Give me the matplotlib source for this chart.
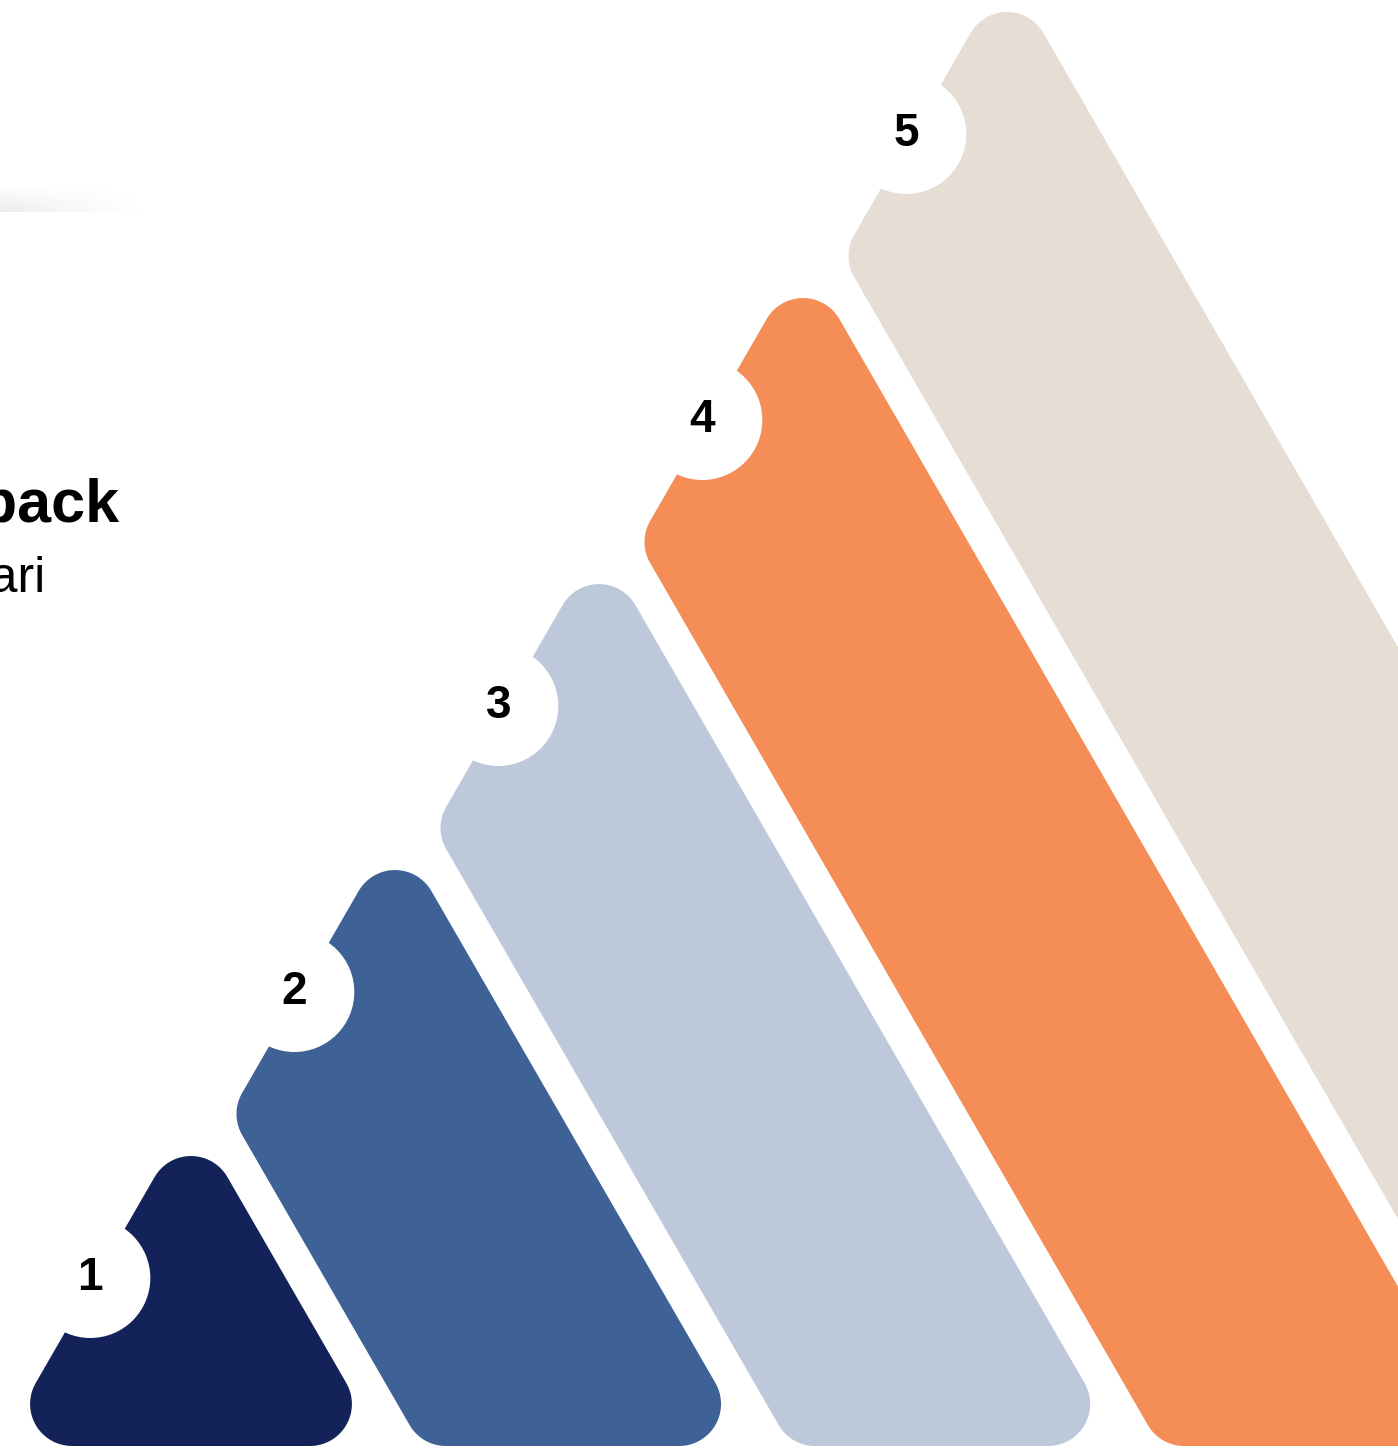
import numpy as np
import matplotlib.pyplot as plt
from matplotlib.patches import Polygon, Circle

# Pasos del diagrama
pasos = [1, 2, 3, 4, 5]
etiquetas = ["1", "2", "3", "4", "5"]
colores = ["#13235a", "#3e6296", "#bdc8da", "#f48e56", "#e6ddd4"]
titulo = "Feedback"
subtitulo = "Januari"

# Geometria (pixeles, y hacia abajo)
W, H = 1398, 1448
base_y = 1446
apice0 = (191, 1114)
paso_dx, paso_dy = 204, 286
hueco = 39
radio = 42
r_circulo = 60
s3 = np.sqrt(3)


def redondear(vertices, r, n=24):
    pts = []
    m = len(vertices)
    for i in range(m):
        v = np.array(vertices[i], float)
        a = np.array(vertices[i - 1], float)
        b = np.array(vertices[(i + 1) % m], float)
        u1 = (a - v) / np.linalg.norm(a - v)
        u2 = (b - v) / np.linalg.norm(b - v)
        th = np.arccos(np.clip(u1 @ u2, -1, 1))
        bis = (u1 + u2) / np.linalg.norm(u1 + u2)
        t = r / np.tan(th / 2)
        c = v + bis * r / np.sin(th / 2)
        p1 = v + u1 * t
        p2 = v + u2 * t
        a1 = np.arctan2(*(p1 - c)[::-1])
        a2 = np.arctan2(*(p2 - c)[::-1])
        d = (a2 - a1 + np.pi) % (2 * np.pi) - np.pi
        ang = a1 + np.linspace(0, 1, n) * d
        pts += list(zip(c[0] + r * np.cos(ang), c[1] + r * np.sin(ang)))
    return pts


fig = plt.figure(figsize=(W / 100, H / 100), dpi=100)
ax = fig.add_axes([0, 0, 1, 1])
ax.set_xlim(0, W)
ax.set_ylim(H, 0)
ax.axis("off")

# sombra arriba a la izquierda
gx = np.linspace(0, 1, 200)
gy = np.linspace(0, 1, 40)
GX, GY = np.meshgrid(gx, gy)
alfa = 0.14 * (1 - GX) ** 1.3 * GY ** 0.8
img = np.zeros((40, 200, 4))
img[..., :3] = 0.45
img[..., 3] = alfa
ax.imshow(img, extent=[0, 150, 212, 188], aspect="auto", zorder=1)

apices = []
for i, p in enumerate(pasos):
    ax_, ay_ = apice0[0] + paso_dx * i, apice0[1] - paso_dy * i
    apices.append((ax_, ay_))

for i, p in enumerate(pasos):
    A = apices[i]
    R = (A[0] + (base_y - A[1]) / s3, base_y)
    if i == 0:
        L = (A[0] - (base_y - A[1]) / s3, base_y)
        verts = [L, A, R]
    else:
        Ap = apices[i - 1]
        Rp = Ap[0] + (base_y - Ap[1]) / s3
        BL = (Rp + hueco, base_y)
        LV = (Ap[0] + hueco, Ap[1])
        verts = [LV, A, R, BL]
    ax.add_patch(Polygon(redondear(verts, radio), closed=True,
                         facecolor=colores[i], edgecolor="none", zorder=2))

    cy = A[1] + 164
    cx = A[0] - (cy - A[1]) / s3 - 6
    ax.add_patch(Circle((cx, cy), r_circulo, facecolor="white",
                        edgecolor="none", zorder=3))
    ax.text(cx, cy, etiquetas[i], ha="center", va="center", fontsize=33,
            fontweight="bold", family="Liberation Sans", color="black", zorder=4)

ax.text(120, 522, titulo, ha="right", va="baseline", fontsize=44,
        fontweight="bold", family="Liberation Sans", color="black")
ax.text(46, 592, subtitulo, ha="right", va="baseline", fontsize=36,
        family="Liberation Sans", color="black")

fig.savefig("out.png", dpi=100)
